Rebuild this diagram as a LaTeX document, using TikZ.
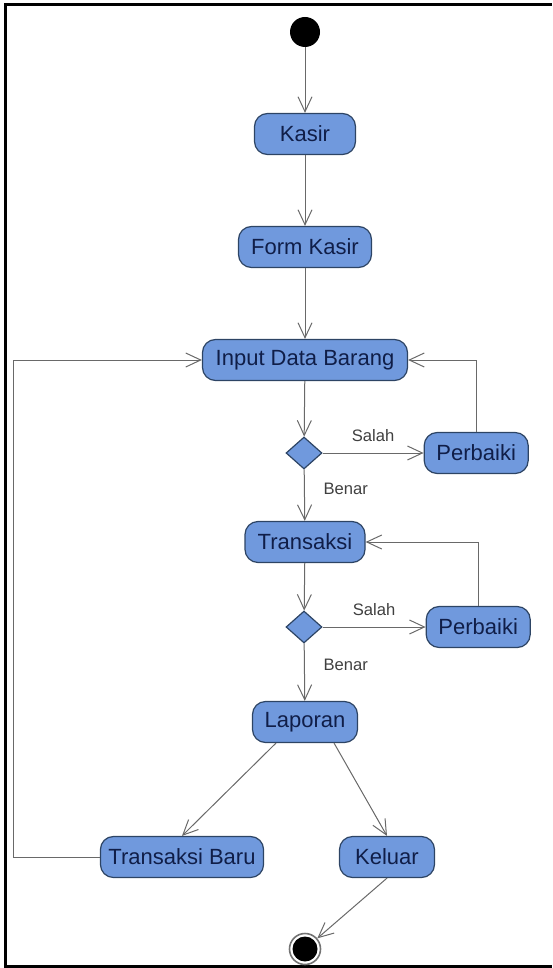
\documentclass[tikz,border=0pt]{standalone}
\usepackage{fontspec}
\setmainfont{Liberation Sans}
\usepackage{xcolor}
\usepackage{tikz}
\usetikzlibrary{positioning, shapes.geometric, arrows.meta}
\definecolor{actfill}{RGB}{112,153,221}
\definecolor{actline}{RGB}{45,68,100}
\definecolor{acttext}{RGB}{16,30,72}
\definecolor{flowgray}{RGB}{105,105,105}
\tikzset{
	activity/.style = {draw=actline, fill=actfill, rounded corners=6.5pt, line width=0.6pt, text=acttext, font=\fontsize{11}{13}\selectfont, minimum height=20.5pt, inner xsep=4pt},
	decision/.style = {diamond, draw=actline, fill=actfill, line width=0.6pt, minimum width=18pt, minimum height=16pt, inner sep=0},
	initial/.style = {circle, fill=black, minimum width=15pt, minimum height=14pt, inner sep=0},
	final/.style = {circle, draw=black!55, line width=0.8pt, minimum size=15.5pt, inner sep=0},
	flow/.style = {draw=flowgray, line width=0.5pt, -{Straight Barb[length=7.5pt, width=7pt]}},
	guard/.style = {font=\fontsize{8.3}{10}\selectfont, text=black!75}
}
\begin{document}
\begin{tikzpicture}[x=0.5pt, y=-0.5pt]
	\useasboundingbox (0,0) rectangle (552,968);
	% frame
	\draw[line width=1.5pt] (552,4.5) -- (5.5,4.5) -- (5.5,966.5) -- (552,966.5);
	
	\node [initial] (start) at (305,32) {};
	\node [activity, minimum width=50.5pt] (kasir) at (305,134) {Kasir};
	\node [activity, minimum width=66.5pt] (form) at (305,247) {Form Kasir};
	\node [activity, minimum width=102.5pt] (input) at (305,360) {Input Data Barang};
	\node [decision] (cek1) at (304,453) {};
	\node [activity, minimum width=52pt] [right=50.5pt of cek1] (fix1) {Perbaiki};
	\node [activity, minimum width=60pt] (trans) at (305,542) {Transaksi};
	\node [decision] (cek2) at (304,627) {};
	\node [activity, minimum width=52pt] [right=51.5pt of cek2] (fix2) {Perbaiki};
	\node [activity, minimum width=52.5pt] (lap) at (305,722) {Laporan};
	\node [activity, minimum width=81.5pt] (baru) at (182,857) {Transaksi Baru};
	\node [activity, minimum width=47.5pt] (keluar) at (387,857) {Keluar};
	\node [final] (end) at (305,949) {};
	\node [circle, fill=black, minimum size=12.5pt, inner sep=0] at (end) (endcore) {};
	\coordinate (loopx) at (13,0);
	
	\draw [flow] (start) -- (kasir);
	\draw [flow] (kasir) -- (form);
	\draw [flow] (form) -- (input);
	\draw [flow] (input) -- (cek1);
	\draw [flow] (cek1) -- node [guard, above=2pt] {Salah} (fix1);
	\draw [flow] (fix1.north) |- (input.east);
	\draw [flow] (cek1) -- node [guard, right=6pt, pos=0.37] {Benar} (trans);
	\draw [flow] (trans) -- (cek2);
	\draw [flow] (cek2) -- node [guard, above=2pt] {Salah} (fix2);
	\draw [flow] (fix2.north) |- (trans.east);
	\draw [flow] (cek2) -- node [guard, right=6pt, pos=0.37] {Benar} (lap);
	\draw [flow] (lap.216) -- (baru.north);
	\draw [flow] (lap.324) -- (keluar.north);
	\draw [flow] (baru.west) -- (baru.west -| loopx) |- (input.west);
	\draw [flow] (keluar.south) -- (end);
\end{tikzpicture}
\end{document}
